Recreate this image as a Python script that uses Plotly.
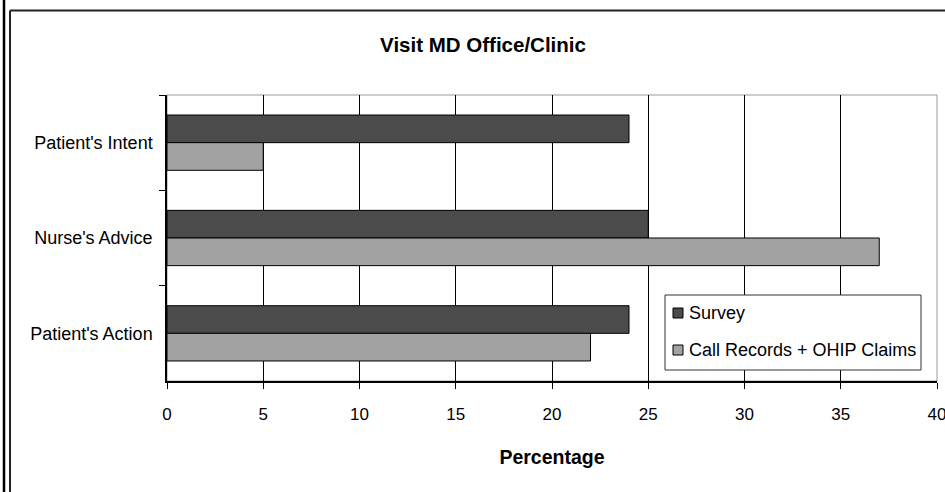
import plotly.graph_objects as go

categories = ["Patient's Intent", "Nurse's Advice", "Patient's Action"]
series_names = ["Survey", "Call Records + OHIP Claims"]
survey = [24, 25, 24]
call_records = [5, 37, 22]
x_ticks = [0, 5, 10, 15, 20, 25, 30, 35, 40]

FONT = "Liberation Sans, Arial, sans-serif"
DARK = "#4b4b4b"
LIGHT = "#a2a2a2"

W, H = 945, 492
L, R, T, B = 167, 8, 95, 111
PW, PH = W - L - R, H - T - B


def px(x):
    return (x - L) / PW


def py(y):
    return (H - B - y) / PH


fig = go.Figure()
fig.add_trace(go.Bar(
    y=categories, x=survey, name=series_names[0], orientation="h",
    marker=dict(color=DARK, line=dict(color="#000000", width=1)),
))
fig.add_trace(go.Bar(
    y=categories, x=call_records, name=series_names[1], orientation="h",
    marker=dict(color=LIGHT, line=dict(color="#000000", width=1)),
))

shapes = [
    # plot area grey frame (top/right)
    dict(type="rect", xref="paper", yref="paper", x0=0, x1=1, y0=0, y1=1,
         line=dict(color="#9a9a9a", width=1), layer="below"),
    # outer borders
    dict(type="line", xref="paper", yref="paper", x0=px(4), x1=px(4), y0=py(-5), y1=py(500),
         line=dict(color="#000000", width=2.5)),
    dict(type="line", xref="paper", yref="paper", x0=px(10), x1=px(10), y0=py(10.5), y1=py(500),
         line=dict(color="#222222", width=2)),
    dict(type="line", xref="paper", yref="paper", x0=px(10), x1=px(950), y0=py(10.5), y1=py(10.5),
         line=dict(color="#222222", width=2)),
    # legend box
    dict(type="rect", xref="paper", yref="paper", x0=px(665), x1=px(921), y0=py(370), y1=py(295),
         line=dict(color="#333333", width=1), fillcolor="#ffffff", layer="above"),
]

annotations = []
legend_rows = [(series_names[0], DARK, 313), (series_names[1], LIGHT, 350)]
for name, color, yc in legend_rows:
    shapes.append(dict(type="rect", xref="paper", yref="paper",
                       x0=px(673), x1=px(683), y0=py(yc + 5), y1=py(yc - 5),
                       line=dict(color="#000000", width=1), fillcolor=color, layer="above"))
    annotations.append(dict(text=name, xref="paper", yref="paper", x=px(687), y=py(yc),
                            xanchor="left", yanchor="middle", showarrow=False,
                            font=dict(size=18, family=FONT, color="#000000")))

fig.update_layout(
    width=W, height=H,
    margin=dict(l=L, r=R, t=T, b=B, autoexpand=False),
    paper_bgcolor="#ffffff", plot_bgcolor="#ffffff",
    font=dict(family=FONT, size=17, color="#000000"),
    title=dict(text="<b>Visit MD Office/Clinic</b>", x=483 / W, xanchor="center",
               y=1 - 45 / H, yanchor="middle", font=dict(size=20.5, family=FONT)),
    barmode="group", bargap=0.42, bargroupgap=0,
    showlegend=False,
    shapes=shapes,
    annotations=annotations,
    xaxis=dict(range=[0, 40], tickvals=x_ticks, ticktext=[str(v) for v in x_ticks],
               showgrid=True, gridcolor="#000000", gridwidth=1,
               showline=True, linecolor="#000000", linewidth=1.5,
               ticks="outside", ticklen=6, tickcolor="#000000",
               tickfont=dict(size=17), ticklabeloverflow="allow",
               ticklabelstandoff=11, zeroline=False,
               title=dict(text="<b>Percentage</b>", font=dict(size=19.5, family=FONT), standoff=27)),
    yaxis=dict(autorange="reversed", type="category",
               showgrid=False, showline=True, linecolor="#000000", linewidth=1.5,
               ticks="outside", ticklen=6, tickcolor="#000000", tickson="boundaries",
               tickfont=dict(size=18),
               ticklabelstandoff=9),
)

fig.write_html(
    "out.html",
    config={"displayModeBar": False},
    post_script="document.body.style.margin='0';document.body.style.overflow='hidden';",
)
